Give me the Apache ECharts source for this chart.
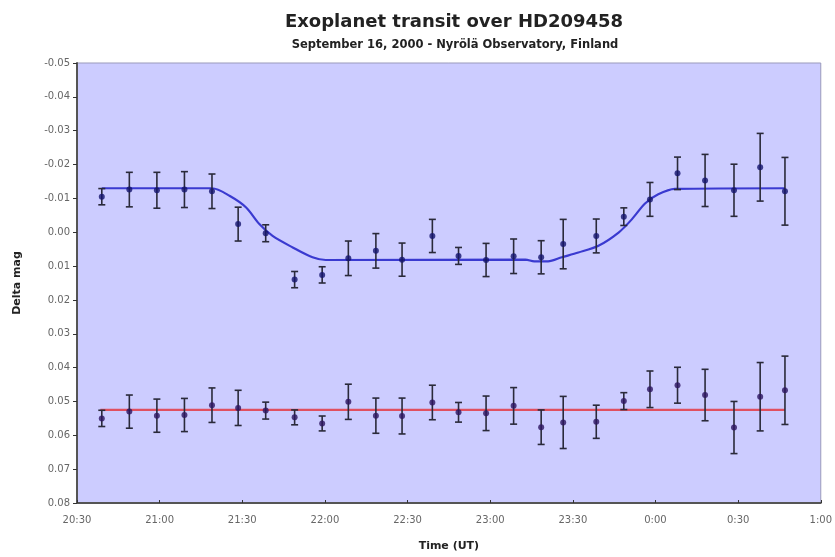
<!DOCTYPE html>
<html>
	<head>
		<meta charset="utf-8">
		<title>Exoplanet transit</title>
		<style>
		html,body { height:100%; width:100%; margin:0; padding:0; background:#fff; }
		</style>
		<script src="https://cdn.jsdelivr.net/npm/echarts@6/dist/echarts.min.js"></script>
	</head>
	<body>
		<div id="main" style="width:835px;height:557px;"></div>
		<script type="text/javascript">
			// minutes after 20:30 UT
			var obsTime = [9, 19, 29, 39, 49, 58.5, 68.5, 79, 89, 98.5, 108.5, 118, 129,
				138.5, 148.5, 158.5, 168.5, 176.5, 188.5, 198.5, 208, 218, 228, 238.5, 248, 257];

			// HD209458 minus comparison
			var transitMag = [-0.0105, -0.0126, -0.0124, -0.0126, -0.0121, -0.0024, 0.0003, 0.0140, 0.0126,
				0.0077, 0.0055, 0.0081, 0.0011, 0.0070, 0.0082, 0.0071, 0.0074, 0.0035, 0.0011,
				-0.0046, -0.0097, -0.0174, -0.0153, -0.0124, -0.0192, -0.0121];
			var transitErr = [0.0024, 0.0051, 0.0053, 0.0053, 0.0051, 0.0050, 0.0025, 0.0024, 0.0024,
				0.0051, 0.0051, 0.0049, 0.0049, 0.0025, 0.0049, 0.0051, 0.0049, 0.0073, 0.0050,
				0.0026, 0.0050, 0.0048, 0.0077, 0.0077, 0.0100, 0.0100];

			// check star
			var checkMag = [0.0550, 0.0530, 0.0542, 0.0540, 0.0511, 0.0519, 0.0527, 0.0547, 0.0565,
				0.0501, 0.0542, 0.0543, 0.0503, 0.0532, 0.0535, 0.0513, 0.0576, 0.0562, 0.0560,
				0.0499, 0.0464, 0.0452, 0.0481, 0.0577, 0.0486, 0.0467];
			var checkErr = [0.0024, 0.0049, 0.0049, 0.0049, 0.0051, 0.0052, 0.0025, 0.0022, 0.0022,
				0.0052, 0.0052, 0.0053, 0.0051, 0.0029, 0.0051, 0.0054, 0.0051, 0.0077, 0.0049,
				0.0025, 0.0054, 0.0053, 0.0076, 0.0077, 0.0101, 0.0101];

			// model curve
			var fitTime = [9, 49, 55.5, 61.4, 66.2, 71, 78.3, 85.5, 90.3, 162.8, 166, 171, 176,
				182, 189.3, 196.6, 201.4, 206.2, 211, 217, 257];
			var fitMag = [-0.0130, -0.0130, -0.0107, -0.0073, -0.0024, 0.0011, 0.0045, 0.0074, 0.0082,
				0.0081, 0.0086, 0.0086, 0.0074, 0.0060, 0.0040, 0.0001, -0.0038, -0.0085,
				-0.0112, -0.0128, -0.0130];

			var levelTime = [8.5, 257];
			var levelMag = [0.0525, 0.0525];

			var timeLabels = ['20:30', '21:00', '21:30', '22:00', '22:30', '23:00', '23:30', '0:00', '0:30', '1:00'];

			function pairs(xs, ys) {
				var out = [];
				for (var i = 0; i < xs.length; i++) out.push([xs[i], ys[i]]);
				return out;
			}
			function errData(xs, ys, es) {
				var out = [];
				for (var i = 0; i < xs.length; i++) out.push([xs[i], ys[i] - es[i], ys[i] + es[i]]);
				return out;
			}

			function errorBar(color) {
				return function (params, api) {
					var lo = api.coord([api.value(0), api.value(1)]);
					var hi = api.coord([api.value(0), api.value(2)]);
					var w = 3.5;
					var st = { stroke: color, lineWidth: 1.6 };
					return {
						type: 'group',
						children: [
							{ type: 'line', shape: { x1: lo[0], y1: lo[1], x2: hi[0], y2: hi[1] }, style: st },
							{ type: 'line', shape: { x1: lo[0] - w, y1: lo[1], x2: lo[0] + w, y2: lo[1] }, style: st },
							{ type: 'line', shape: { x1: hi[0] - w, y1: hi[1], x2: hi[0] + w, y2: hi[1] }, style: st }
						]
					};
				};
			}

			var myChart = echarts.init(document.getElementById('main'));
			var option = {
				animation: false,
				textStyle: { fontFamily: 'DejaVu Sans, sans-serif' },
				title: [{
					text: 'Exoplanet transit over HD209458',
					left: 449, top: 8, textAlign: 'center',
					textStyle: { fontSize: 18, fontWeight: 'bold', color: '#222', fontFamily: 'DejaVu Sans' }
				}, {
					text: 'September 16, 2000 - Nyrölä Observatory, Finland',
					left: 450, top: 34, textAlign: 'center',
					textStyle: { fontSize: 11.5, fontWeight: 'bold', color: '#222', fontFamily: 'DejaVu Sans' }
				}],
				grid: {
					left: 77, top: 63, width: 746, height: 442,
					show: true, backgroundColor: '#ccccff', borderColor: '#9999bb', borderWidth: 1
				},
				xAxis: {
					type: 'value', min: 0, max: 270, interval: 30,
					name: 'Time (UT)', nameLocation: 'middle', nameGap: 38,
					nameTextStyle: { fontSize: 11, fontWeight: 'bold', color: '#222' },
					axisLine: { onZero: false, lineStyle: { color: '#555', width: 2 } },
					axisTick: { inside: true, length: 3, lineStyle: { color: '#333' } },
					axisLabel: {
						color: '#666', fontSize: 10, margin: 12,
						formatter: function (v) { return timeLabels[Math.round(v / 30)]; }
					},
					splitLine: { show: false }
				},
				yAxis: {
					type: 'value', inverse: true, min: -0.05, max: 0.08, interval: 0.01,
					name: 'Delta mag', nameLocation: 'middle', nameGap: 54,
					nameTextStyle: { fontSize: 11, fontWeight: 'bold', color: '#222' },
					axisLine: { show: true, onZero: false, lineStyle: { color: '#555', width: 2 } },
					axisTick: { show: true, length: 4, lineStyle: { color: '#333' } },
					axisLabel: {
						color: '#666', fontSize: 10, margin: 7,
						formatter: function (v) { return v.toFixed(2); }
					},
					splitLine: { show: false }
				},
				series: [{
					type: 'line', data: pairs(fitTime, fitMag), smooth: 0.3,
					symbol: 'none', lineStyle: { color: '#3a3ad0', width: 2.2 }, z: 2
				}, {
					type: 'line', data: pairs(levelTime, levelMag),
					symbol: 'none', lineStyle: { color: '#e05060', width: 2.2 }, z: 2
				}, {
					type: 'custom', data: errData(obsTime, transitMag, transitErr),
					renderItem: errorBar('#2a2a3a'), encode: { x: 0, y: [1, 2] }, z: 3
				}, {
					type: 'custom', data: errData(obsTime, checkMag, checkErr),
					renderItem: errorBar('#2a2a3a'), encode: { x: 0, y: [1, 2] }, z: 3
				}, {
					type: 'scatter', data: pairs(obsTime, transitMag), symbolSize: 6,
					itemStyle: { color: '#14146e' }, z: 4
				}, {
					type: 'scatter', data: pairs(obsTime, checkMag), symbolSize: 6,
					itemStyle: { color: '#2c1460' }, z: 4
				}]
			};
			myChart.setOption(option);
		</script>
	</body>
</html>
